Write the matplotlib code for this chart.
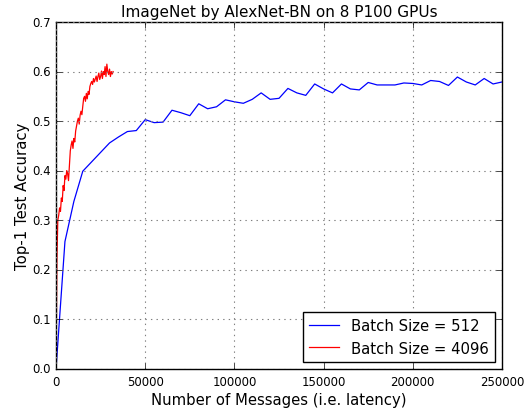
import numpy as np
import matplotlib
matplotlib.use("Agg")
import matplotlib.pyplot as plt

# Batch size 512: one point every 5000 messages
msgs_512 = np.arange(0, 250001, 5000)
acc_512 = [0.0, 0.257, 0.338, 0.399, 0.418, 0.437, 0.456, 0.468, 0.479, 0.481,
           0.503, 0.497, 0.498, 0.522, 0.517, 0.511, 0.535, 0.525, 0.529, 0.543,
           0.539, 0.536, 0.544, 0.557, 0.544, 0.546, 0.566, 0.557, 0.552, 0.575,
           0.565, 0.557, 0.575, 0.565, 0.563, 0.578, 0.573, 0.573, 0.573, 0.577,
           0.576, 0.573, 0.582, 0.580, 0.572, 0.589, 0.579, 0.573, 0.586, 0.575,
           0.579]

# Batch size 4096: one point every 500 messages
msgs_4096 = np.arange(0, 32001, 500)
acc_4096 = [0.0, 0.22, 0.30, 0.31, 0.325, 0.318, 0.345, 0.338, 0.37, 0.36,
            0.39, 0.383, 0.40, 0.394, 0.38, 0.41, 0.44, 0.452, 0.46, 0.445,
            0.465, 0.458, 0.48, 0.49, 0.50, 0.506, 0.494, 0.512, 0.52, 0.513,
            0.53, 0.546, 0.55, 0.54, 0.556, 0.545, 0.56, 0.554, 0.57, 0.576,
            0.58, 0.574, 0.586, 0.579, 0.585, 0.591, 0.58, 0.59, 0.597, 0.584,
            0.59, 0.601, 0.586, 0.60, 0.594, 0.61, 0.59, 0.615, 0.60, 0.594,
            0.605, 0.59, 0.60, 0.595, 0.60]

plt.style.use("classic")
fig = plt.figure(figsize=(5.32, 4.10), dpi=100, facecolor="white")
ax = fig.add_axes([0.1053, 0.0976, 0.8383, 0.8463])

ax.plot(msgs_512, acc_512, color="blue", linewidth=0.9, label="Batch Size = 512")
ax.plot(msgs_4096, acc_4096, color="red", linewidth=0.9, label="Batch Size = 4096")

ax.set_xlim(0, 250000)
ax.set_ylim(0, 0.7)
ax.set_xticks(np.arange(0, 250001, 50000))
ax.set_yticks(np.arange(0, 0.71, 0.1))
ax.tick_params(labelsize=8.5)
ax.grid(True, color="gray", linestyle=":", linewidth=0.8)

ax.set_title("ImageNet by AlexNet-BN on 8 P100 GPUs", fontsize=11, pad=4)
ax.set_xlabel("Number of Messages (i.e. latency)", fontsize=10.7, labelpad=3)
ax.set_ylabel("Top-1 Test Accuracy", fontsize=10.7, labelpad=1.5)
ax.legend(loc="lower right", fontsize=10.7, fancybox=False, numpoints=1)

fig.savefig("out.png", dpi=100, facecolor="white")
